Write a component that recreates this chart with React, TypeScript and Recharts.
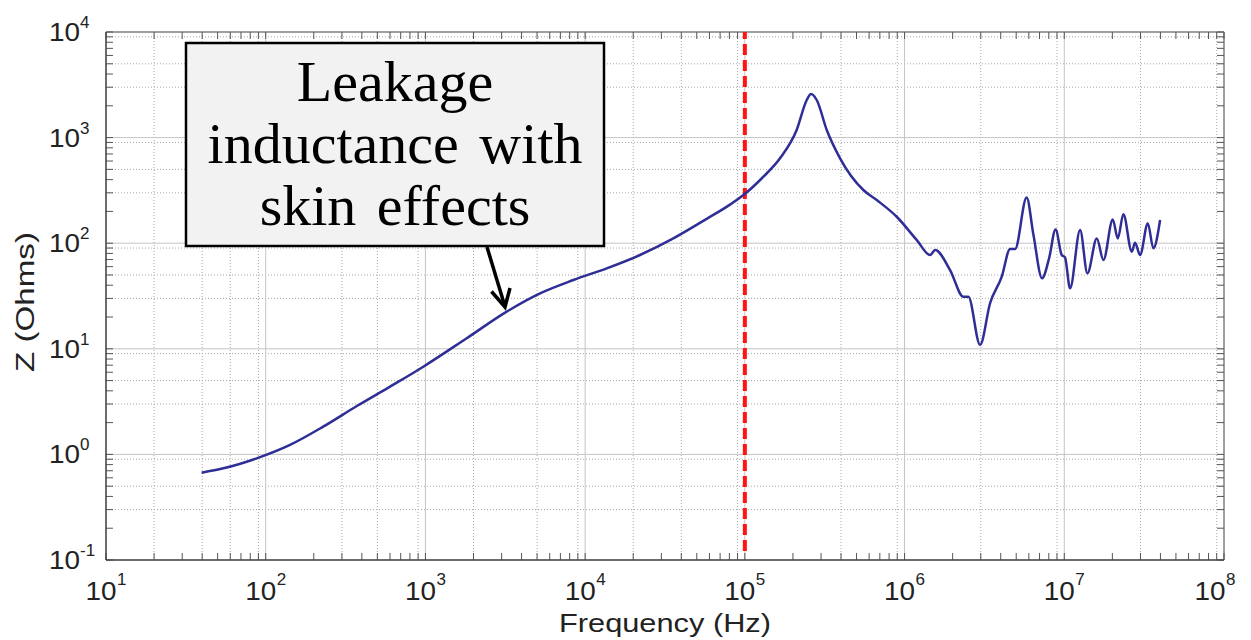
import React from 'react';
import { LineChart, Line, XAxis, YAxis, CartesianGrid, ReferenceLine } from 'recharts';

// Impedance curve
const freqHz = [39.7, 54.3, 87.8, 142, 229, 372, 600, 970, 1814, 3228, 5220, 8440, 13650, 22070, 35660, 57680, 80700, 98000, 130600, 166000, 211000, 244100, 259700, 281800, 325700, 394500, 552000, 670000, 893000, 1.193e6, 1.445e6, 1.554e6, 1.927e6, 2.335e6, 2.509e6, 2.97e6, 3.43e6, 4.06e6, 4.58e6, 4.92e6, 5.81e6, 6.41e6, 7.26e6, 8.04e6, 8.82e6, 9.64e6, 1.01e7, 1.087e7, 1.256e7, 1.396e7, 1.598e7, 1.758e7, 2.012e7, 2.163e7, 2.344e7, 2.647e7, 2.774e7, 2.982e7, 3.334e7, 3.613e7, 3.98e7];
const impedanceOhms = [0.671, 0.738, 0.918, 1.23, 1.83, 2.87, 4.38, 6.77, 12.6, 22.5, 33.5, 44.8, 57.8, 77.3, 111, 170, 232, 286, 426, 637, 1180, 2270, 2588, 2270, 1180, 637, 319, 256, 178, 107, 77.3, 86.2, 55.7, 31.1, 31.1, 10.9, 27.0, 48.2, 88.1, 88.1, 271, 120, 46.5, 72.4, 135, 77.3, 73.5, 37.4, 133, 51.9, 111, 69.3, 168, 111, 188, 83.1, 101, 77.3, 154, 89.5, 166];

// Axes
const xTicks = [1e1, 1e2, 1e3, 1e4, 1e5, 1e6, 1e7, 1e8];
const xTickExp = ['1', '2', '3', '4', '5', '6', '7', '8'];
const yTicks = [1e-1, 1e0, 1e1, 1e2, 1e3, 1e4];
const yTickExp = ['-1', '0', '1', '2', '3', '4'];
const minorMultipliers = [2, 3, 4, 5, 6, 7, 8, 9];
const cutoffHz = 1e5;

const xTitle = 'Frequency (Hz)';
const yTitle = 'Z (Ohms)';
const noteLines = ['Leakage', 'inductance with', 'skin effects'];

const data = freqHz.map((f, i) => ({ f, z: impedanceOhms[i] }));

const minorOf = (ticks: number[]) =>
  ticks.slice(0, -1).flatMap((t) => minorMultipliers.map((m) => t * m));
const xMinor = minorOf(xTicks);
const yMinor = minorOf(yTicks);
const xAll = [...xTicks, ...xMinor];
const yAll = [...yTicks, ...yMinor];

const X0 = xTicks[0];
const X1 = xTicks[xTicks.length - 1];
const Y0 = yTicks[0];
const Y1 = yTicks[yTicks.length - 1];
const tickFx = 1.106; // ~7px along x
const tickFy = 1.165; // ~7px along y

const SANS = '"Liberation Sans", Arial, Helvetica, sans-serif';
const SERIF = '"Liberation Serif", "Times New Roman", serif';

const XTick = (props: any) => {
  const { x, y, payload } = props;
  const idx = xTicks.indexOf(payload.value);
  return (
    <g style={{ fontFamily: SANS }} fill="#222">
      <text x={x - 5} y={y + 38} textAnchor="middle" fontSize={26} textLength={31} lengthAdjust="spacingAndGlyphs">10</text>
      <text x={x + 11} y={y + 23} textAnchor="start" fontSize={17}>{xTickExp[idx]}</text>
    </g>
  );
};

const YTick = (props: any) => {
  const { x, y, payload } = props;
  const idx = yTicks.indexOf(payload.value);
  return (
    <g style={{ fontFamily: SANS }} fill="#222">
      <text x={x - 24} y={y + 9} textAnchor="end" fontSize={26} textLength={31} lengthAdjust="spacingAndGlyphs">10</text>
      <text x={x - 24} y={y - 4} textAnchor="start" fontSize={17}>{yTickExp[idx]}</text>
    </g>
  );
};

const YTitle = (props: any) => {
  const vb = props.viewBox || {};
  const cx = (vb.x || 0) + 17;
  const cy = (vb.y || 0) + (vb.height || 0) / 2 + 6;
  return (
    <text x={cx} y={cy} transform={`rotate(-90, ${cx}, ${cy})`} textAnchor="middle" dominantBaseline="central" style={{ fontFamily: SANS }} fontSize={25} fill="#222" textLength={140} lengthAdjust="spacingAndGlyphs">
      {yTitle}
    </text>
  );
};

const XTitle = (props: any) => {
  const vb = props.viewBox || {};
  const cx = (vb.x || 0) + (vb.width || 0) / 2;
  const cy = (vb.y || 0) + 72;
  return (
    <text x={cx} y={cy} textAnchor="middle" style={{ fontFamily: SANS }} fontSize={25} fill="#222" textLength={212} lengthAdjust="spacingAndGlyphs">
      {xTitle}
    </text>
  );
};

export default function App() {
  return (
    <div style={{ position: 'relative', width: 1243, height: 632 }}>
      <LineChart width={1243} height={632} data={data} margin={{ top: 24, right: 27, bottom: 0, left: 0 }}>
        <CartesianGrid horizontalValues={yMinor} verticalValues={xMinor} stroke="#a8a8a8" strokeDasharray="1 2" />
        <CartesianGrid horizontalValues={yTicks} verticalValues={xTicks} stroke="#c4c4c4" />
        <XAxis
          dataKey="f"
          type="number"
          scale="log"
          domain={[X0, X1]}
          ticks={xTicks}
          allowDataOverflow
          height={80}
          tickSize={0}
          tickLine={false}
          tick={<XTick />}
          axisLine={{ stroke: '#444', strokeWidth: 1.5 }}
          label={{ content: <XTitle /> }}
        />
        <YAxis
          type="number"
          scale="log"
          domain={[Y0, Y1]}
          ticks={yTicks}
          allowDataOverflow
          width={98}
          tickSize={0}
          tickLine={false}
          tick={<YTick />}
          axisLine={{ stroke: '#444', strokeWidth: 1.5 }}
          label={{ content: <YTitle /> }}
        />
        <ReferenceLine y={Y1} stroke="#888" strokeWidth={1.5} />
        <ReferenceLine x={X1} stroke="#888" strokeWidth={1.5} />
        {xAll.map((v) => (
          <ReferenceLine key={'bt' + v} segment={[{ x: v, y: Y0 }, { x: v, y: Y0 * tickFy }]} stroke="#555" />
        ))}
        {xAll.map((v) => (
          <ReferenceLine key={'tt' + v} segment={[{ x: v, y: Y1 }, { x: v, y: Y1 / tickFy }]} stroke="#555" />
        ))}
        {yAll.map((v) => (
          <ReferenceLine key={'lt' + v} segment={[{ x: X0, y: v }, { x: X0 * tickFx, y: v }]} stroke="#555" />
        ))}
        {yAll.map((v) => (
          <ReferenceLine key={'rt' + v} segment={[{ x: X1, y: v }, { x: X1 / tickFx, y: v }]} stroke="#555" />
        ))}
        <ReferenceLine
          segment={[{ x: cutoffHz, y: 0.122 }, { x: cutoffHz, y: Y1 }]}
          stroke="#ff1414"
          strokeWidth={4}
          strokeDasharray="11 5"
        />
        <Line
          type="monotone"
          dataKey="z"
          stroke="#2e2e96"
          strokeWidth={2.5}
          dot={false}
          isAnimationActive={false}
        />
      </LineChart>
      <svg width={1243} height={632} style={{ position: 'absolute', left: 0, top: 0, pointerEvents: 'none' }}>
        <rect x={178} y={35} width={418} height={203} fill="#f2f2f2" stroke="#000" strokeWidth={2.5} />
        {noteLines.map((t, i) => (
          <text key={t} x={387} y={93 + i * 62} textAnchor="middle" style={{ fontFamily: SERIF, wordSpacing: 6 }} fontSize={58} fill="#000">
            {t}
          </text>
        ))}
        <line x1={479} y1={239} x2={496.5} y2={297} stroke="#000" strokeWidth={3.5} />
        <polyline points="483.5,283.5 497,299 502,280" fill="none" stroke="#000" strokeWidth={3.5} strokeLinejoin="miter" />
      </svg>
    </div>
  );
}
